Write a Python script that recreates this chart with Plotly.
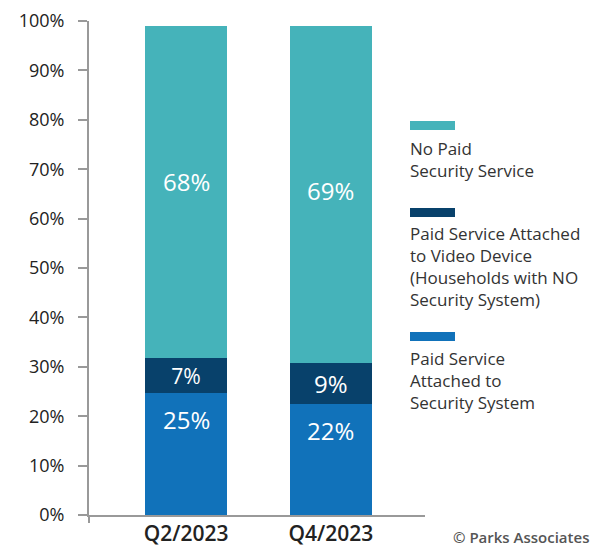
import plotly.graph_objects as go

categories = ["Q2/2023", "Q4/2023"]
series_names = [
    "Paid Service<br>Attached to<br>Security System",
    "Paid Service Attached<br>to Video Device<br>(Households with NO<br>Security System)",
    "No Paid<br>Security Service",
]
security_system = [24.7, 22.4]
video_device = [7.1, 8.3]
no_paid = [67.2, 68.3]
security_labels = ["25%", "22%"]
video_labels = ["7%", "9%"]
no_paid_labels = ["68%", "69%"]
y_ticks = [0, 10, 20, 30, 40, 50, 60, 70, 80, 90, 100]
y_tick_text = [f"{v}%" for v in y_ticks]

colors = ["#1172BA", "#08416B", "#45B3BA"]
FONT = "Open Sans"

W, H = 607, 546
L, R, T, B = 89, 182, 21, 31
pw, ph = W - L - R, H - T - B


def px_x(x):
    return (x - L) / pw


def px_y(y):
    return 1 - (y - T) / ph


fig = go.Figure()
values = [security_system, video_device, no_paid]
labels = [security_labels, video_labels, no_paid_labels]
bar_font = dict(color="white", size=24, family=FONT, weight=500)
for i in range(3):
    fig.add_trace(go.Bar(
        x=categories, y=values[i], name=series_names[i],
        marker=dict(color=colors[i], line=dict(width=0)),
        text=labels[i] if i == 1 else None,
        textposition="inside", insidetextanchor="middle",
        textfont=bar_font,
        width=0.566, showlegend=False,
    ))

annotations = []
for c, v, t in zip(categories, security_system, security_labels):
    annotations.append(dict(x=c, y=v - 5.3, xref="x", yref="y", text=t,
                            showarrow=False, font=bar_font))
for c, base1, base2, v, t, off in zip(categories, security_system, video_device, no_paid,
                                      no_paid_labels, [2.2, 0.8]):
    annotations.append(dict(x=c, y=base1 + base2 + v / 2 + off, xref="x", yref="y", text=t,
                            showarrow=False, font=bar_font))

# legend (custom, swatches above text)
legend_items = [
    (2, 121, 148),
    (1, 208, 233),
    (0, 332, 358),
]
shapes = []
for idx, sy, ty in legend_items:
    shapes.append(dict(type="rect", xref="paper", yref="paper",
                       x0=px_x(410), x1=px_x(455), y0=px_y(sy + 9), y1=px_y(sy),
                       fillcolor=colors[idx], line=dict(width=0)))
    annotations.append(dict(x=px_x(408), y=px_y(ty - 13), xref="paper", yref="paper",
                            text=series_names[idx], showarrow=False, xanchor="left", yanchor="top",
                            align="left", font=dict(size=17, color="#333333", family=FONT)))

# y axis extension below x axis
shapes.append(dict(type="line", xref="paper", yref="paper", x0=0, x1=0, y0=0, y1=px_y(523),
                   line=dict(color="#999999", width=2)))

annotations.append(dict(x=px_x(591), y=px_y(537), xref="paper", yref="paper",
                        text="© Parks Associates", showarrow=False, xanchor="right", yanchor="middle",
                        font=dict(size=15, color="#555555", family=FONT, weight=600)))

fig.update_layout(
    barmode="stack",
    width=W, height=H,
    margin=dict(l=L, r=R, t=T, b=B),
    plot_bgcolor="white", paper_bgcolor="white",
    shapes=shapes, annotations=annotations,
    uniformtext=dict(mode=False),
    xaxis=dict(range=[-0.67, 1.65], showline=True, linecolor="#999999", linewidth=2,
               ticks="", tickfont=dict(size=21, color="#222222", family=FONT, weight=600),
               ticklabelstandoff=-1,
               showgrid=False, zeroline=False, automargin=False),
    yaxis=dict(range=[0, 100], tickvals=y_ticks, ticktext=y_tick_text,
               showline=True, linecolor="#999999", linewidth=2, ticks="outside",
               ticklen=9, tickwidth=2, tickcolor="#999999", ticklabelstandoff=10,
               tickfont=dict(size=18, color="#222222", family=FONT, weight=500),
               showgrid=False, zeroline=False, automargin=False),
)

fig.write_html("out.html")
